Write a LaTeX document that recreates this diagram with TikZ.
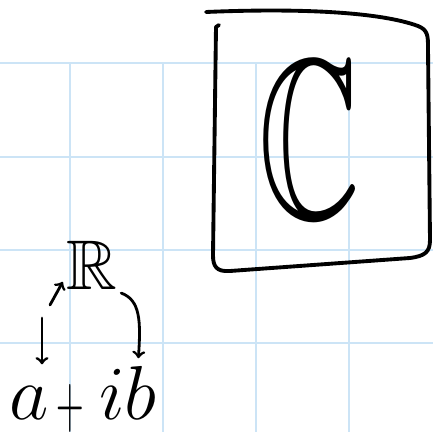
\documentclass[tikz,border=0pt]{standalone}
\usepackage{amsmath}
\usepackage{amssymb}
\usepackage{xcolor}
\usetikzlibrary{arrows,calc}
\definecolor{gridblue}{RGB}{204,228,246}

\begin{document}
\begin{tikzpicture}[x=0.02cm,y=-0.02cm,
    gridline/.style={gridblue,line width=1.2pt},
    ink/.style={black,line width=2.2pt,line cap=round,line join=round},
    pen/.style={black,line width=1.6pt,line cap=round},
    letter/.style={inner sep=0pt,anchor=base,font=\Huge,scale=1.75}]
    \useasboundingbox (0,0) rectangle (433,432);

    % squared paper
    \foreach \y in {63,157,250,343}
        \draw[gridline] (0,\y) -- (433,\y);
    \foreach \x in {70,163,256,349}
        \draw[gridline] (\x,63) -- (\x,432);

    % the frame round C
    \draw[ink] (206,12) .. controls (300,8) and (380,12) .. (418,26)
        .. controls (428,30) and (428,36) .. (428,48) -- (430,240)
        .. controls (430,252) and (425,256) .. (410,258) -- (230,271)
        .. controls (216,272) and (213,266) .. (213,255) -- (216,27) -- (219,25);

    \node[inner sep=0pt,font=\fontsize{130}{130}\selectfont,xscale=0.62] (cc) at (310,140) {$\mathbb{C}$};

    \node[inner sep=2pt,font=\fontsize{40}{40}\selectfont] (real) at (92,265) {$\mathbb{R}$};

    \node[letter] (re) at (29,419) {$a$};
    \node[letter,scale=1,xscale=0.5] (plus) at (70,427) {$+$};
    \node[letter] (im) at (128,419) {$ib$};

    \coordinate (tailR) at (50,305);
    \coordinate (tailA) at (42,318);

    \draw[pen,->] (tailR) -- (real.210);
    \draw[pen,->,shorten >=12pt] (tailA) -- (tailA |- re.north);
    \draw[pen,->,shorten >=4pt] (real.south east) .. controls (140,300) and (141,320) .. (im.70);
\end{tikzpicture}
\end{document}
